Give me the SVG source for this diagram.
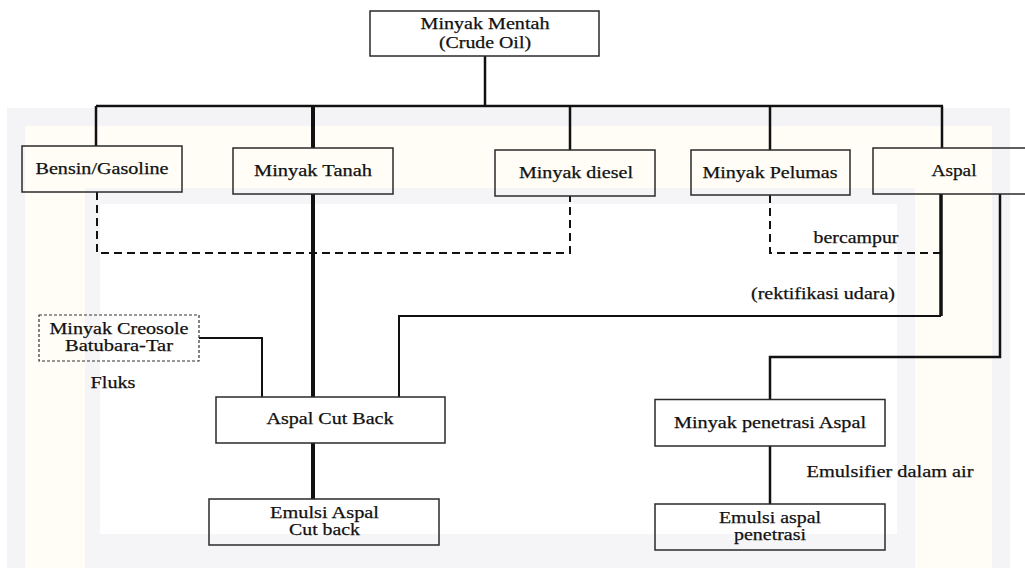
<svg xmlns="http://www.w3.org/2000/svg" width="1025" height="568" viewBox="0 0 1025 568">
<style>
.box{fill:none;stroke:#2a2a2a;stroke-width:1.5}
.dbox{fill:none;stroke:#333;stroke-width:1.2;stroke-dasharray:3 2}
.t{font-family:"Liberation Serif","Times New Roman",serif;font-size:17px;fill:#111;stroke:#111;stroke-width:0.25;text-anchor:middle}
.c{fill:none;stroke:#111;stroke-linejoin:miter}
.dash{fill:none;stroke:#111;stroke-width:2;stroke-dasharray:8 5}
</style>
<rect width="1025" height="568" fill="#ffffff"/>
<g id="watermark">
<rect x="7" y="108" width="1003" height="460" fill="#f4f4f6"/>
<rect x="25" y="126" width="967" height="442" fill="#fffdf6"/>
<rect x="85" y="188" width="830" height="380" fill="#f5f5f7"/>
<rect x="100" y="204" width="797" height="330" fill="#ffffff"/>
</g>
<g id="connectors">
<path class="c" stroke-width="2.5" d="M485 56V106M96 106H943M96 106V146M570 106V150M770 106V150M942 106V148"/>
<path class="c" stroke-width="4" d="M313 106V148M313 194V397M313 443V499"/>
<path class="dash" d="M97 192V253H570V196"/>
<path class="dash" d="M770 195V253H941"/>
<path class="c" stroke-width="3.5" d="M941 194V316"/>
<path class="c" stroke-width="2" d="M941 316H399V397"/>
<path class="c" stroke-width="2.5" d="M1000 194V357H770V399.5"/>
<path class="c" stroke-width="2.5" d="M770 446V504"/>
<path class="c" stroke-width="2" d="M199 338H262V397"/>
</g>
<g id="n-crude"><rect class="box" x="370" y="11" width="229" height="45"/>
<text class="t" x="485" y="29" textLength="129" lengthAdjust="spacingAndGlyphs">Minyak Mentah</text>
<text class="t" x="485" y="48" textLength="92" lengthAdjust="spacingAndGlyphs">(Crude Oil)</text></g>
<g id="n-bensin"><rect class="box" x="22" y="146" width="160" height="46"/>
<text class="t" x="102" y="174" textLength="133" lengthAdjust="spacingAndGlyphs">Bensin/Gasoline</text></g>
<g id="n-tanah"><rect class="box" x="233" y="148" width="160" height="46"/>
<text class="t" x="313" y="176" textLength="118" lengthAdjust="spacingAndGlyphs">Minyak Tanah</text></g>
<g id="n-diesel"><rect class="box" x="495" y="150" width="160" height="46"/>
<text class="t" x="576" y="178" textLength="114" lengthAdjust="spacingAndGlyphs">Minyak diesel</text></g>
<g id="n-pelumas"><rect class="box" x="691" y="150" width="159" height="45"/>
<text class="t" x="770" y="178" textLength="135" lengthAdjust="spacingAndGlyphs">Minyak Pelumas</text></g>
<g id="n-aspal"><rect class="box" x="873" y="148" width="160" height="46"/>
<text class="t" x="954" y="176" textLength="45" lengthAdjust="spacingAndGlyphs">Aspal</text></g>
<g id="n-creosole"><rect class="dbox" x="39" y="315" width="160" height="46"/>
<text class="t" x="119" y="334" textLength="139" lengthAdjust="spacingAndGlyphs">Minyak Creosole</text>
<text class="t" x="119" y="351" textLength="108" lengthAdjust="spacingAndGlyphs">Batubara-Tar</text></g>
<g id="n-cutback"><rect class="box" x="216" y="397" width="229" height="46"/>
<text class="t" x="330" y="424" textLength="127" lengthAdjust="spacingAndGlyphs">Aspal Cut Back</text></g>
<g id="n-emulsi-cutback"><rect class="box" x="209" y="499" width="230" height="46"/>
<text class="t" x="324.5" y="518" textLength="109" lengthAdjust="spacingAndGlyphs">Emulsi Aspal</text>
<text class="t" x="324.5" y="535" textLength="71" lengthAdjust="spacingAndGlyphs">Cut back</text></g>
<g id="n-penetrasi"><rect class="box" x="655" y="399.5" width="230" height="46.5"/>
<text class="t" x="770" y="428" textLength="192" lengthAdjust="spacingAndGlyphs">Minyak penetrasi Aspal</text></g>
<g id="n-emulsi-penetrasi"><rect class="box" x="655" y="504" width="230" height="46"/>
<text class="t" x="770" y="523" textLength="102" lengthAdjust="spacingAndGlyphs">Emulsi aspal</text>
<text class="t" x="770" y="540" textLength="72" lengthAdjust="spacingAndGlyphs">penetrasi</text></g>
<g id="labels">
<text class="t" x="856" y="243" textLength="85" lengthAdjust="spacingAndGlyphs">bercampur</text>
<text class="t" x="823" y="299" textLength="144" lengthAdjust="spacingAndGlyphs">(rektifikasi udara)</text>
<text class="t" x="113" y="388" textLength="45" lengthAdjust="spacingAndGlyphs">Fluks</text>
<text class="t" x="890" y="477" textLength="167" lengthAdjust="spacingAndGlyphs">Emulsifier dalam air</text>
</g>
</svg>
